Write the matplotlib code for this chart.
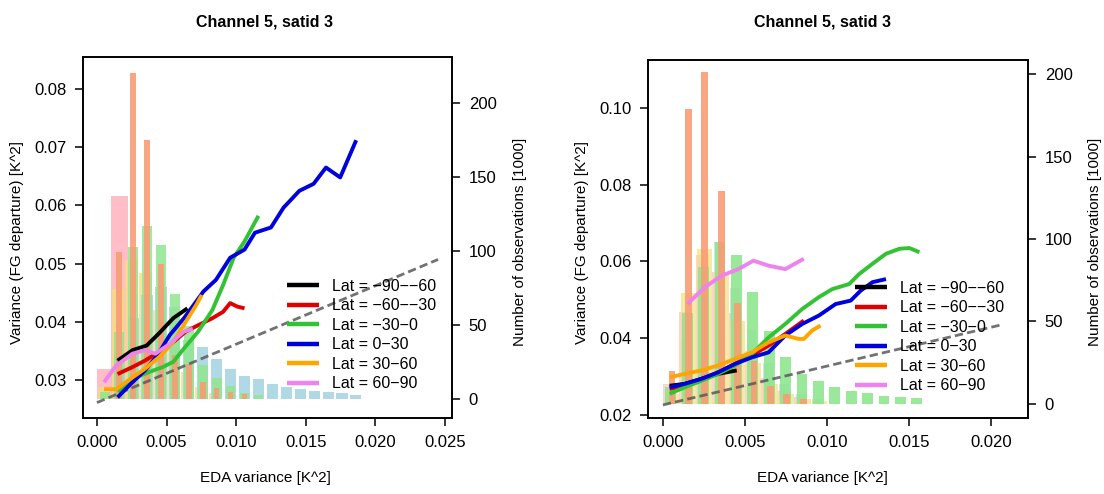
import matplotlib
matplotlib.use('Agg')
import matplotlib.pyplot as plt
import numpy as np

plt.rcParams['font.family'] = ['Liberation Sans', 'DejaVu Sans']

# ---- data ----
labels = ['Lat = \u221290\u2212\u221260', 'Lat = \u221260\u2212\u221230', 'Lat = \u221230\u22120',
          'Lat = 0\u221230', 'Lat = 30\u221260', 'Lat = 60\u221290']
line_colors = ['black', '#e00000', '#33c233', '#0000dd', '#ffa500', '#ee82ee']

# left panel: curves (EDA variance, FG departure variance)
L_x = [
    [0.00148, 0.00255, 0.00357, 0.00446, 0.00548, 0.0065],
    [0.00148, 0.00255, 0.00344, 0.00446, 0.00548, 0.00638, 0.00727, 0.00829, 0.00906, 0.00957, 0.01008, 0.0106],
    [0.00153, 0.00255, 0.0037, 0.00472, 0.00548, 0.00625, 0.00727, 0.00829, 0.00906, 0.00982, 0.0106, 0.0116],
    [0.00148, 0.00255, 0.00344, 0.00434, 0.00523, 0.00625, 0.00714, 0.00765, 0.00855, 0.00957, 0.0106, 0.01135,
     0.0125, 0.0134, 0.01454, 0.01556, 0.01645, 0.01747, 0.01862],
    [0.00051, 0.0014, 0.00242, 0.00344, 0.00446, 0.00548, 0.00638, 0.00714, 0.00753],
    [0.00051, 0.0014, 0.00255, 0.00344, 0.0042, 0.00523, 0.00625, 0.00689],
]
L_y = [
    [0.0333, 0.0351, 0.0359, 0.0380, 0.0406, 0.0423],
    [0.0310, 0.0322, 0.0333, 0.0348, 0.0365, 0.0383, 0.0394, 0.0406, 0.0417, 0.0432, 0.0426, 0.0423],
    [0.0279, 0.0302, 0.0313, 0.0322, 0.0331, 0.0354, 0.0383, 0.0420, 0.0463, 0.0510, 0.0538, 0.0582],
    [0.0270, 0.0296, 0.0316, 0.0342, 0.0377, 0.0406, 0.0435, 0.0452, 0.0472, 0.0510, 0.0524, 0.0553,
     0.0562, 0.0596, 0.0625, 0.0637, 0.0665, 0.0648, 0.0712],
    [0.0284, 0.0284, 0.0302, 0.0319, 0.0339, 0.0365, 0.0400, 0.0429, 0.0446],
    [0.0296, 0.0325, 0.0345, 0.0351, 0.0345, 0.0362, 0.0383, 0.0388],
]
L_ref_x = [0.0, 0.0245]
L_ref_y = [0.0261, 0.0507]

# right panel curves
R_x = [
    [0.00041, 0.00133, 0.00235, 0.00337, 0.0045],
    [0.00041, 0.00133, 0.00235, 0.00337, 0.0044, 0.00542, 0.00644, 0.00746, 0.00859],
    [0.00041, 0.00133, 0.00235, 0.00337, 0.0044, 0.00542, 0.00644, 0.00746, 0.00849, 0.00951, 0.01033,
     0.01135, 0.01196, 0.01278, 0.0136, 0.01442, 0.01503, 0.01564],
    [0.00041, 0.00133, 0.00235, 0.00337, 0.0044, 0.00542, 0.00644, 0.00746, 0.00849, 0.00951, 0.01053,
     0.01145, 0.01206, 0.01278, 0.0136],
    [0.00041, 0.00133, 0.00235, 0.00337, 0.0044, 0.00542, 0.00644, 0.00746, 0.00828, 0.00859, 0.0091, 0.00961],
    [0.00149, 0.00256, 0.00358, 0.0046, 0.00552, 0.00644, 0.00746, 0.00859],
]
R_y = [
    [0.0276, 0.0281, 0.0294, 0.0307, 0.0316],
    [0.0268, 0.0276, 0.0294, 0.0311, 0.0333, 0.0355, 0.0381, 0.0411, 0.0446],
    [0.0255, 0.0272, 0.0289, 0.0307, 0.0329, 0.0359, 0.0402, 0.0437, 0.0476, 0.0507, 0.0528,
     0.0541, 0.0567, 0.0594, 0.0620, 0.0633, 0.0635, 0.0624],
    [0.0272, 0.0281, 0.0294, 0.0311, 0.0333, 0.0350, 0.0363, 0.0407, 0.0437, 0.0459, 0.0489,
     0.0498, 0.0524, 0.0546, 0.0554],
    [0.0298, 0.0307, 0.0316, 0.0329, 0.0346, 0.0363, 0.0389, 0.0407, 0.0398, 0.0398, 0.0420, 0.0433],
    [0.0489, 0.0533, 0.0563, 0.0580, 0.0602, 0.0589, 0.0580, 0.0607],
]
R_ref_x = [0.0, 0.02065]
R_ref_y = [0.0226, 0.0435]

# histograms: number of observations [1000] per 0.001-wide bin starting at these values
bin_starts = [0.000, 0.001, 0.002, 0.003, 0.004, 0.005, 0.006, 0.007, 0.008, 0.009,
              0.010, 0.011, 0.012, 0.013, 0.014, 0.015, 0.016, 0.017, 0.018]

L_pink = [20, 137]
L_yellow = [8, 74, 94, 85, 60, 35, 18, 8, 4]
L_lblue = [0, 30, 55, 70, 76, 62, 40, 35, 27, 20.3, 15.5, 13.3, 10.4, 8.4, 6.8, 5.6, 4.9, 4.0, 2.7]
L_green = [5, 45, 103, 117, 104, 71, 49, 23, 14, 8.6, 4, 3]
L_salmon = [0, 99, 220, 175, 91, 30, 24, 11.7, 7.2, 5, 3.2]

R_pink = [12, 56, 90, 80, 55, 32, 16, 8, 4]
R_yellow = [6, 67, 94, 80, 50, 25, 12, 6, 3, 2]
R_lblue = [5, 40, 75, 98, 70, 45, 25, 12, 6, 3]
R_green = [10, 55, 83, 98, 90, 68, 44, 28.4, 18.2, 14.2, 10.5, 8.1, 6.5, 5, 4, 3.6]
R_salmon = [20, 179, 201, 129, 61, 26, 11, 6, 3]


def bars(ax, counts, color, offset, width, alpha):
    x = np.array(bin_starts[:len(counts)]) + offset
    ax.bar(x, counts, width=width, color=color, alpha=alpha, linewidth=0)


def panel(rect, xs, ys, refx, refy, hists, xlim, ylim, clim, xticks, yticks, yfmt, leg_anchor):
    ax = fig.add_axes(rect)
    ax2 = ax.twinx()
    for counts, color, off, w, a in hists:
        bars(ax2, counts, color, off, w, a)
    ax.set_zorder(ax2.get_zorder() + 1)
    ax.patch.set_visible(False)

    ax.plot(refx, refy, color='0.35', lw=2, ls=(0, (3, 1.5)), alpha=0.85)
    handles = []
    for x, y, c in zip(xs, ys, line_colors):
        h, = ax.plot(x, y, color=c, lw=2.8, solid_capstyle='butt')
        handles.append(h)

    ax.set_xlim(*xlim)
    ax.set_ylim(*ylim)
    ax2.set_ylim(*clim)
    ax.set_xticks(xticks)
    ax.set_xticklabels(['%.3f' % t for t in xticks])
    ax.set_yticks(yticks)
    ax.set_yticklabels([yfmt % t for t in yticks])
    ax2.set_yticks([0, 50, 100, 150, 200])
    for a in (ax, ax2):
        a.tick_params(direction='out', length=6, width=1.1, labelsize=12, pad=6)
        for s in a.spines.values():
            s.set_linewidth(1.2)
    leg = ax.legend(handles, labels, loc='upper left', bbox_to_anchor=leg_anchor,
                    frameon=False, fontsize=11.5, handlelength=2.0, handletextpad=0.8,
                    labelspacing=0.28, borderpad=0, borderaxespad=0)
    for lh in leg.get_lines():
        lh.set_linewidth(3.2)
    return ax, ax2


fig = plt.figure(figsize=(11.04, 4.94), dpi=100)
W, H = 1104, 494

# left panel
panel([83 / W, 76 / H, 369 / W, 361 / H], L_x, L_y, L_ref_x, L_ref_y,
      [(L_pink, '#ffb6c1', 0.0006, 0.0012, 0.9),
       (L_yellow, '#f3e07c', 0.0005, 0.0009, 0.75),
       (L_lblue, '#a9d5e3', 0.0006, 0.0008, 0.9),
       (L_green, '#8fe68f', 0.0006, 0.0007, 0.85),
       (L_salmon, '#f99c74', 0.0006, 0.0004, 0.9)],
      (-0.001, 0.0255), (0.02345, 0.0855), (-12.8, 231),
      [0, 0.005, 0.010, 0.015, 0.020, 0.025], [0.03, 0.04, 0.05, 0.06, 0.07, 0.08], '%.2f',
      (0.553, 0.385))

# right panel
panel([648 / W, 76 / H, 380 / W, 358 / H], R_x, R_y, R_ref_x, R_ref_y,
      [(R_pink, '#f7c4c0', 0.0004, 0.0008, 0.7),
       (R_lblue, '#a9d5e3', 0.0004, 0.0006, 0.6),
       (R_yellow, '#f3e07c', 0.00055, 0.0009, 0.7),
       (R_green, '#8fe68f', 0.00048, 0.00065, 0.9),
       (R_salmon, '#f99c74', 0.00055, 0.00042, 0.9)],
      (-0.00091, 0.02226), (0.0192, 0.1125), (-8.5, 208.5),
      [0, 0.005, 0.010, 0.015, 0.020], [0.02, 0.04, 0.06, 0.08, 0.10], '%.2f',
      (0.545, 0.383))

for cx, ylx, yrx in [(265, 17, 520), (822, 582, 1095)]:
    fig.text(cx / W, 1 - 22 / H, 'Channel 5, satid 3', ha='center', va='center',
             fontsize=11.5, fontweight='bold')
    fig.text(cx / W, 1 - 478 / H, 'EDA variance [K^2]', ha='center', va='center', fontsize=11)
    fig.text(ylx / W, 1 - 242 / H, 'Variance (FG departure) [K^2]', ha='center', va='center',
             rotation=90, fontsize=11)
    fig.text(yrx / W, 1 - 242 / H, 'Number of observations [1000]', ha='center', va='center',
             rotation=90, fontsize=11)

fig.savefig('out.png', dpi=100)
